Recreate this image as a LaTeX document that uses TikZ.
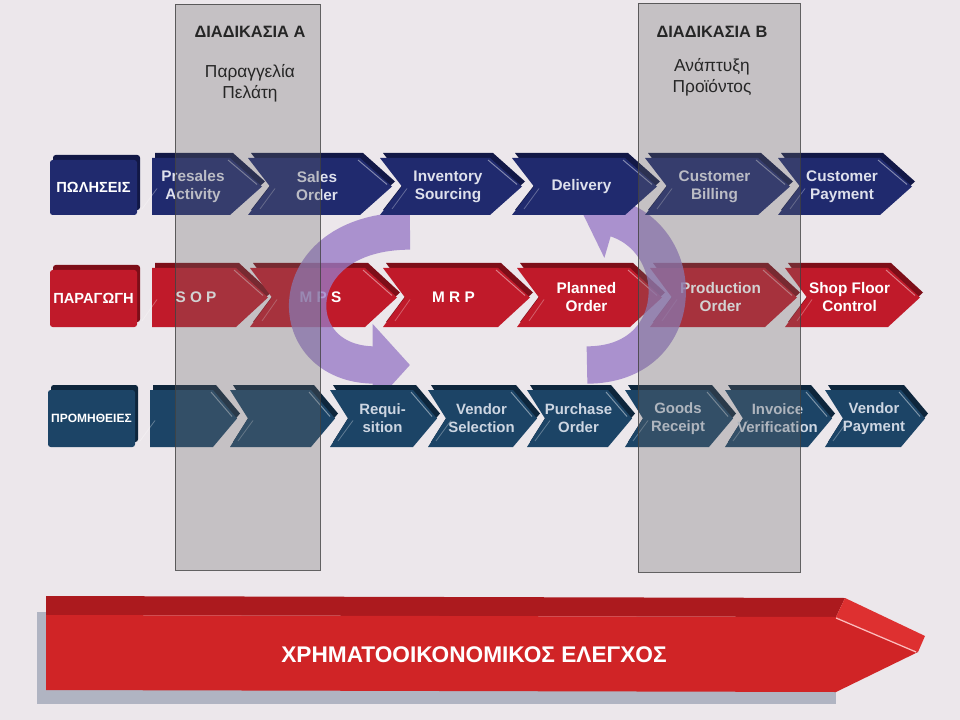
\documentclass[tikz,border=0pt]{standalone}
\usepackage{fontspec}
\setmainfont{Liberation Sans}
\usetikzlibrary{arrows.meta}
\definecolor{bg}{RGB}{236,231,235}
\definecolor{navy}{RGB}{32,42,110}
\definecolor{navyd}{RGB}{18,24,70}
\definecolor{redm}{RGB}{192,26,42}
\definecolor{redd}{RGB}{125,14,24}
\definecolor{tealm}{RGB}{28,68,102}
\definecolor{teald}{RGB}{14,38,60}
\definecolor{purp}{RGB}{152,122,198}
\definecolor{txtl}{RGB}{222,224,236}
\definecolor{txtt}{RGB}{205,214,226}
\definecolor{redfront}{RGB}{208,36,38}
\definecolor{redtop}{RGB}{172,26,30}
\definecolor{redside}{RGB}{222,48,48}
\definecolor{greyside}{RGB}{176,180,194}
\tikzset{
  chevtext/.style={text=txtl, font=\bfseries\fontsize{11.5}{13.5}\selectfont, align=center, inner sep=0pt},
  curtext/.style={chevtext},
  lbltext/.style={text=white, font=\bfseries\fontsize{11}{12}\selectfont, inner sep=0pt},
  column/.style={fill=black!58, fill opacity=0.3, draw=black!75, draw opacity=0.8, line width=0.6pt},
  hdr/.style={font=\bfseries\fontsize{12.3}{14}\selectfont, text=black!85, inner sep=0pt},
  subhdr/.style={font=\fontsize{13}{16}\selectfont, align=center, text=black!85, inner sep=0pt},
  purparrow/.style={draw=purp, line width=28pt, -{Triangle[width=60pt,length=28pt]}},
  fintext/.style={text=white, font=\bfseries\fontsize{17}{19}\selectfont, inner sep=0pt}
}
% chevron: name, x1, x2, notch depth, text
\newcommand\chev[5]{%
  \fill[\cdark] ({#2+3},{\ya-5}) -- ({#3-\pd+3},{\ya-5}) -- ({#3+3},{\ym-5}) -- ({#3-\pd+3},{\yb-5}) -- ({#2+3},{\yb-5}) -- ({#2+#4+3},{\ym-5}) -- cycle;
  \fill[\cfill] (#2,\ya) -- ({#3-\pd},\ya) -- (#3,\ym) -- ({#3-\pd},\yb) -- (#2,\yb) -- ({#2+#4},\ym) -- cycle;
  \draw[white, opacity=0.45, line width=0.7pt] ({#3-\pd-2},{\ya+2}) -- ({#3-5},{\ym-2});
  \draw[white, opacity=0.3, line width=0.6pt] ({#2+#4+5},{\ym+2}) -- ({#2+#4-10},{\yb-6});
  \node[curtext] (#1) at ({(#2+#4+#3-\pd)/2+2},\ym) {#5};
}
% row label: name, x1, x2, ytop, ybot, text
\newcommand\lbl[6]{%
  \fill[\cdark, rounded corners=2pt] ({#2+3},{#4-5}) rectangle ({#3+3},{#5-5});
  \fill[\cfill, rounded corners=2pt] (#2,#4) rectangle (#3,#5);
  \node[lbltext] (#1) at ({(#2+#3)/2},{(#4+#5)/2}) {#6};
}
\begin{document}
\begin{tikzpicture}[x=0.75pt, y=-0.75pt]
\fill[bg] (0,0) rectangle (960,720);
\useasboundingbox (0,0) rectangle (960,720);

% ---- row 2: production (below purple arrows)
\def\ya{268}\def\yb{327}\def\ym{297.5}\def\pd{32}\def\cfill{redm}\def\cdark{redd}
\tikzset{curtext/.style={chevtext,text=white}}
\lbl{lprod}{50}{137}{270}{327}{ΠΑΡΑΓΩΓΗ}
\chev{sop}{152}{268}{0}{S O P}
\chev{mps}{250}{397}{22}{M P S}
\chev{mrp}{383}{530}{22}{M R P}
\chev{plo}{517}{662}{22}{Planned\\Order}
\chev{pro}{650}{797}{22}{Production\\Order}
\chev{sfc}{785}{920}{22}{Shop Floor\\Control}

% ---- purple circular arrows
\coordinate (aLs) at (410,231);
\coordinate (aLe) at (410,365);
\coordinate (aRs) at (587,365);
\coordinate (aRe) at (580,208);
\begin{scope}[transparency group, opacity=0.78]
  \draw[purparrow] (aLs) .. controls (280,231) and (280,365) .. (aLe);
\end{scope}
\begin{scope}[transparency group, opacity=0.78]
  \draw[purparrow] (aRs) .. controls (688,365) and (690,240) .. (aRe);
\end{scope}

% ---- row 1: sales
\def\ya{158}\def\yb{215}\def\ym{186.5}\def\pd{32}\def\cfill{navy}\def\cdark{navyd}
\tikzset{curtext/.style={chevtext}}
\lbl{lsales}{50}{137}{160}{215}{ΠΩΛΗΣΕΙΣ}
\chev{pa}{152}{262}{0}{Presales\\Activity}
\chev{so}{248}{392}{22}{Sales\\Order}
\chev{is}{380}{522}{22}{Inventory\\Sourcing}
\chev{dl}{512}{657}{22}{Delivery}
\chev{cb}{645}{790}{22}{Customer\\Billing}
\chev{cp}{778}{912}{22}{Customer\\Payment}

% ---- row 3: procurement
\def\ya{390}\def\yb{447}\def\ym{418.5}\def\pd{24}\def\cfill{tealm}\def\cdark{teald}
\tikzset{curtext/.style={chevtext,text=txtt,font=\bfseries\fontsize{11.2}{13.5}\selectfont}}
\lbl{lproc}{48}{135}{390}{447}{\fontsize{9}{10}\selectfont ΠΡΟΜΗΘΕΙΕΣ}
\chev{bla}{150}{237}{0}{}
\chev{blb}{230}{335}{18}{}
\chev{req}{330}{437}{18}{Requi-\\sition}
\chev{vs}{428}{537}{18}{Vendor\\Selection}
\chev{po}{527}{632}{18}{Purchase\\Order}
\chev{gr}{625}{733}{18}{Goods\\Receipt}
\chev{iv}{725}{832}{18}{Invoice\\Verification}
\chev{vp}{825}{925}{18}{Vendor\\Payment}

% ---- process columns
\draw[column] (175,4) rectangle (320,570);
\draw[column] (638,3) rectangle (800,572);
\node[hdr] (hA) at (250,32) {ΔΙΑΔΙΚΑΣΙΑ Α};
\node[subhdr] (sA) at (250,83) {Παραγγελία\\Πελάτη};
\node[hdr] (hB) at (712,32) {ΔΙΑΔΙΚΑΣΙΑ Β};
\node[subhdr] (sB) at (712,77) {Ανάπτυξη\\Προϊόντος};

% ---- financial control arrow
\fill[greyside] (37,612) rectangle (47,704);
\fill[greyside] (37,690) rectangle (836,704);
\fill[redtop] (46,596) -- (845,598) -- (836,617) -- (46,615) -- cycle;
\fill[redside] (845,598) -- (925,636) -- (918,652) -- (836,617) -- cycle;
\fill[redfront] (46,615) -- (836,617) -- (918,652) -- (836,692) -- (46,690) -- cycle;
\draw[white!75!red, line width=0.9pt] (836,618) -- (916,652);
\node[fintext] (fin) at (474,655) {ΧΡΗΜΑΤΟΟΙΚΟΝΟΜΙΚΟΣ ΕΛΕΓΧΟΣ};
\end{tikzpicture}
\end{document}
